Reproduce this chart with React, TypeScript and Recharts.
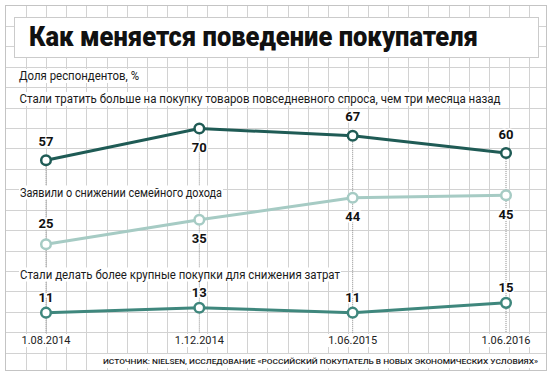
import React from "react";
import { LineChart, Line, XAxis, YAxis, ReferenceLine, LabelList } from "recharts";

// values
const dates = ["1.08.2014", "1.12.2014", "1.06.2015", "1.06.2016"];
const spendMore = [57, 70, 67, 60];
const incomeDrop = [25, 35, 44, 45];
const biggerBuys = [11, 13, 11, 15];

// where each value label sits relative to its point
const spendSide = ["up", "down", "up", "up"];
const incomeSide = ["up", "down", "down", "down"];
const biggerSide = ["up", "up", "up", "up"];

const title = "Как меняется поведение покупателя";
const unitNote = "Доля респондентов, %";
const spendCaption = "Стали тратить больше на покупку товаров повседневного спроса, чем три месяца назад";
const incomeCaption = "Заявили о снижении семейного дохода";
const biggerCaption = "Стали делать более крупные покупки для снижения затрат";
const source = "ИСТОЧНИК: NIELSEN, ИССЛЕДОВАНИЕ «РОССИЙСКИЙ ПОКУПАТЕЛЬ В НОВЫХ ЭКОНОМИЧЕСКИХ УСЛОВИЯХ»";

const W = 556;
const H = 380;
const FONT = "Roboto, 'Open Sans', Arial, sans-serif";

// each panel gets its own hidden axis, same span so the scale is shared
const domainA: [number, number] = [-13.5, 86.5];
const domainB: [number, number] = [-11.2, 88.8];
const domainC: [number, number] = [2.7, 102.7];

const colA = "#1f5b55";
const colB = "#a6cbc4";
const colC = "#3f877d";

const data = dates.map((d, i) => ({
  date: d,
  spend: spendMore[i],
  income: incomeDrop[i],
  bigger: biggerBuys[i],
}));

function Grid() {
  const hLines = [];
  for (let k = 1; k <= 17; k++) {
    const y = Math.round(5.4 + 20.43 * k) + 0.5;
    hLines.push(<line key={"h" + k} x1={5} x2={547} y1={y} y2={y} />);
  }
  const vLines = [];
  for (let k = 1; k <= 26; k++) {
    const x = Math.round(5.9 + 20.12 * k) + 0.5;
    vLines.push(<line key={"v" + k} x1={x} x2={x} y1={5} y2={370} />);
  }
  return (
    <svg width={W} height={H} style={{ position: "absolute", left: 0, top: 0 }}>
      <rect x={0} y={0} width={W} height={H} fill="#fff" />
      <g stroke="#d2d2d2" strokeWidth={1} shapeRendering="crispEdges">
        {hLines}
        {vLines}
      </g>
      <rect x={5.5} y={5.5} width={541} height={365} fill="none" stroke="#c4c4c4" shapeRendering="crispEdges" />
      <rect x={14.5} y={17.5} width={524} height={40} fill="#fff" stroke="#cbcbcb" shapeRendering="crispEdges" />
      <text
        x={29}
        y={45.5}
        fontFamily={FONT}
        fontWeight={900}
        fontSize={28}
        fill="#111"
        textLength={449}
        lengthAdjust="spacingAndGlyphs"
      >
        {title}
      </text>
    </svg>
  );
}

function Caption({ x, cy, w, text, size = 12, weight = 400 }: any) {
  return (
    <g>
      <rect x={x - 1} y={cy - 7} width={w + 2} height={14} fill="#fff" />
      <text
        x={x}
        y={cy + size * 0.36}
        fontFamily={FONT}
        fontSize={size}
        fontWeight={weight}
        fill="#1a1a1a"
        textLength={w}
        lengthAdjust="spacingAndGlyphs"
      >
        {text}
      </text>
    </g>
  );
}

function Overlay() {
  return (
    <svg width={W} height={H} style={{ position: "absolute", left: 0, top: 0, pointerEvents: "none" }}>
      <Caption x={19} cy={76} w={120} text={unitNote} />
      <Caption x={19.5} cy={99} w={481} text={spendCaption} />
      <Caption x={20} cy={192.5} w={202} text={incomeCaption} />
      <Caption x={20} cy={274.5} w={320} text={biggerCaption} />
      <Caption x={103} cy={361} w={435} text={source} size={8} weight={500} />
    </svg>
  );
}

const makeLabel = (sides: string[], up: number, down: number) => (props: any) => {
  const { x, y, value, index } = props;
  const cy = sides[index] === "down" ? y + down : y - up;
  return (
    <text
      x={x}
      y={cy + 4.6}
      textAnchor="middle"
      fontFamily={FONT}
      fontWeight={700}
      fontSize={13}
      fill="#111"
      stroke="#fff"
      strokeWidth={3}
      paintOrder="stroke"
    >
      {value}
    </text>
  );
};

const DateTick = (props: any) => {
  const { x, y, payload } = props;
  return (
    <g>
      <rect x={x - 26} y={y + 1} width={52} height={13} fill="#fff" />
      <text x={x} y={y + 11} textAnchor="middle" fontFamily={FONT} fontSize={11} fill="#222">
        {payload.value}
      </text>
    </g>
  );
};

const dot = (color: string) => ({ r: 4.8, stroke: color, strokeWidth: 2.5, fill: "#fff" });

export default function App() {
  return (
    <div style={{ position: "absolute", left: 0, top: 0, width: W, height: H, background: "#fff" }}>
      <Grid />
      <div style={{ position: "absolute", left: 0, top: 0 }}>
        <LineChart width={W} height={H} data={data} margin={{ top: 88, right: 50, bottom: 27, left: 46 }}>
          <XAxis
            dataKey="date"
            axisLine={false}
            tickLine={false}
            tickSize={0}
            tickMargin={0}
            height={20}
            interval={0}
            tick={<DateTick />}
          />
          <YAxis yAxisId="a" hide type="number" domain={domainA} allowDataOverflow />
          <YAxis yAxisId="b" hide type="number" domain={domainB} allowDataOverflow />
          <YAxis yAxisId="c" hide type="number" domain={domainC} allowDataOverflow />
          {dates.map((d, i) => (
            <ReferenceLine
              key={d}
              yAxisId="a"
              ifOverflow="visible"
              segment={[
                { x: d, y: spendMore[i] },
                { x: d, y: domainA[0] },
              ]}
              stroke="#8a8a8a"
              strokeWidth={1}
              strokeDasharray="1 1"
            />
          ))}
          <Line
            yAxisId="a"
            dataKey="spend"
            stroke={colA}
            strokeWidth={3}
            dot={dot(colA)}
            activeDot={false}
            isAnimationActive={false}
          >
            <LabelList dataKey="spend" content={makeLabel(spendSide, 19, 19)} />
          </Line>
          <Line
            yAxisId="b"
            dataKey="income"
            stroke={colB}
            strokeWidth={3}
            dot={dot(colB)}
            activeDot={false}
            isAnimationActive={false}
          >
            <LabelList dataKey="income" content={makeLabel(incomeSide, 21, 19)} />
          </Line>
          <Line
            yAxisId="c"
            dataKey="bigger"
            stroke={colC}
            strokeWidth={3}
            dot={dot(colC)}
            activeDot={false}
            isAnimationActive={false}
          >
            <LabelList dataKey="bigger" content={makeLabel(biggerSide, 15, 15)} />
          </Line>
        </LineChart>
      </div>
      <Overlay />
    </div>
  );
}
